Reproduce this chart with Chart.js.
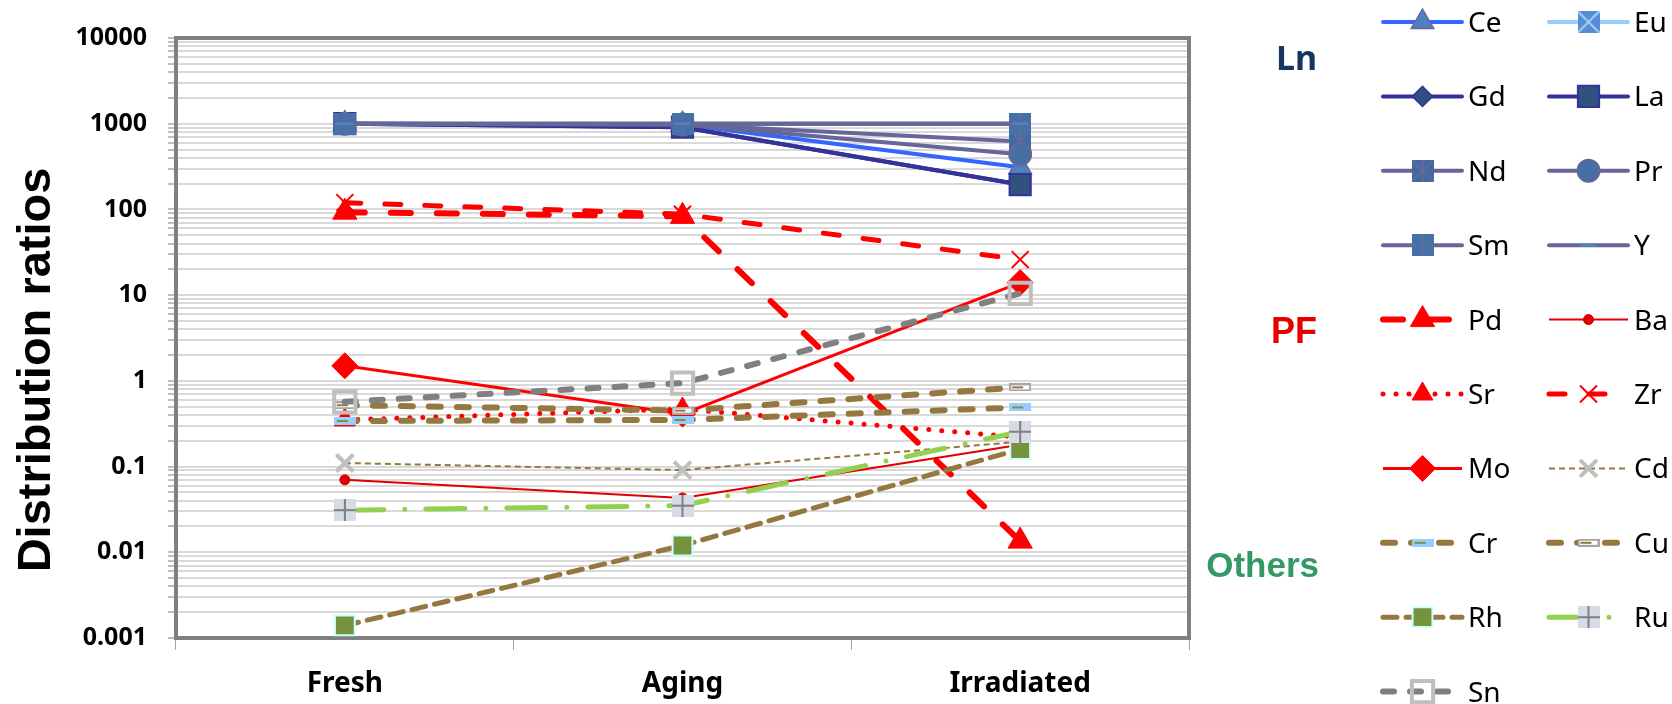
<!DOCTYPE html>
<html>
<head>
<meta charset="utf-8">
<title>Distribution ratios</title>
<script src="https://cdn.jsdelivr.net/npm/chart.js"></script>
<style>
    html, body { margin: 0; padding: 0; background: #fff; }
    #chart { display: block; }
</style>
</head>
<body>
<canvas id="chart" width="1672" height="704"></canvas>
<script>
// values (log axis)
const categories = ['Fresh', 'Aging', 'Irradiated'];

// Ln
const ce = [1000, 980, 310];
const eu = [1000, 1000, 1000];
const gd = [1000, 910, 195];
const la = [1000, 910, 195];
const nd = [1000, 980, 620];
const pr = [1000, 980, 440];
const sm = [1000, 1000, 1000];
const yt = [1000, 1000, 1000];
// PF
const pd = [93, 83, 0.0135];
const ba = [0.07, 0.043, 0.18];
const sr = [0.35, 0.47, 0.22];
const zr = [120, 88, 26];
const mo = [1.5, 0.41, 14];
// others
const cd = [0.11, 0.091, 0.195];
const cr = [0.34, 0.35, 0.49];
const cu = [0.52, 0.45, 0.84];
const rh = [0.0014, 0.012, 0.16];
const ru = [0.031, 0.035, 0.255];
const sn = [0.57, 0.94, 10.5];

const yMajor = [0.001, 0.01, 0.1, 1, 10, 100, 1000, 10000];
const yLabels = ['0.001', '0.01', '0.1', '1', '10', '100', '1000', '10000'];
const minorSteps = [2, 3, 4, 5, 6, 7, 8, 9];
const yTicks = yMajor.concat(
    yMajor.slice(0, -1).flatMap(v => minorSteps.map(s => +(v * s).toPrecision(3)))
).sort((a, b) => a - b);

const brown = '#957840';

// square marker with cross / plus / asterisk on it
function boxMarker(size, fill, mark, markColor, markWidth) {
    const c = document.createElement('canvas');
    c.width = size; c.height = size;
    const g = c.getContext('2d');
    g.fillStyle = fill;
    g.fillRect(0, 0, size, size);
    g.strokeStyle = markColor;
    g.lineWidth = markWidth;
    g.beginPath();
    const m = size / 2;
    if (mark.includes('+')) { g.moveTo(m, 0); g.lineTo(m, size); g.moveTo(0, m); g.lineTo(size, m); }
    if (mark.includes('x')) { g.moveTo(0, 0); g.lineTo(size, size); g.moveTo(size, 0); g.lineTo(0, size); }
    if (mark.includes('|')) { g.moveTo(m, 0); g.lineTo(m, size); }
    g.stroke();
    return c;
}

// flat bar marker (Cr, Cu)
function barMarker(edge, fill, inner) {
    const c = document.createElement('canvas');
    c.width = 22; c.height = 8;
    const g = c.getContext('2d');
    g.fillStyle = edge; g.fillRect(0, 0, 22, 8);
    g.fillStyle = fill; g.fillRect(2, 2, 18, 4);
    g.fillStyle = inner; g.fillRect(3, 3, 11, 2);
    return c;
}

function series(label, data, color, width, dash, cap, point) {
    return Object.assign({
        label: label,
        data: data,
        borderColor: color,
        borderWidth: width,
        borderDash: dash,
        borderCapStyle: cap,
        borderJoinStyle: 'round',
        fill: false,
        tension: 0
    }, point);
}

const red = {pointBackgroundColor: '#FF0000', pointBorderColor: '#FF0000', pointBorderWidth: 1};

const datasets = [
    series('Ce', ce, '#3366FF', 4, [], 'round', {pointStyle: 'triangle', pointRadius: 13, pointBackgroundColor: '#4F81BD', pointBorderColor: '#6666A3', pointBorderWidth: 1.5}),
    series('Eu', eu, '#99CCFF', 4, [], 'round', {pointStyle: boxMarker(22, '#558ED5', 'x', '#A6CDF5', 2), pointRadius: 11}),
    series('Gd', gd, '#333399', 4, [], 'round', {pointStyle: 'rectRot', pointRadius: 10, pointBackgroundColor: '#2F4F7F', pointBorderColor: '#333399', pointBorderWidth: 1.5}),
    series('La', la, '#333399', 4, [], 'round', {pointStyle: 'rect', pointRadius: 15, pointBackgroundColor: '#30527F', pointBorderColor: '#333399', pointBorderWidth: 2}),
    series('Nd', nd, '#666699', 4, [], 'round', {pointStyle: boxMarker(22, '#44699E', 'x|', '#6A6A9F', 1.5), pointRadius: 11}),
    series('Pr', pr, '#666699', 4, [], 'round', {pointStyle: 'circle', pointRadius: 11, pointBackgroundColor: '#4570A6', pointBorderColor: '#666699', pointBorderWidth: 2}),
    series('Sm', sm, '#666699', 4, [], 'round', {pointStyle: boxMarker(22, '#4671A8', '+', '#6A6A9F', 1.5), pointRadius: 11}),
    series('Y', yt, '#666699', 4, [], 'round', {pointStyle: 'line', pointRadius: 8, pointBorderColor: '#4F81BD', pointBorderWidth: 3}),
    series('Pd', pd, '#FF0000', 6, [20, 26], 'round', Object.assign({pointStyle: 'triangle', pointRadius: 14}, red)),
    series('Ba', ba, '#E00000', 2, [], 'butt', {pointStyle: 'circle', pointRadius: 5, pointBackgroundColor: '#E00000', pointBorderColor: '#E00000', pointBorderWidth: 1}),
    series('Sr', sr, '#FF0000', 5, [0, 13], 'round', Object.assign({pointStyle: 'triangle', pointRadius: 12}, red)),
    series('Zr', zr, '#FF0000', 5, [16, 24], 'round', {pointStyle: 'crossRot', pointRadius: 12, pointBorderColor: '#FF0000', pointBorderWidth: 2}),
    series('Mo', mo, '#FF0000', 3, [], 'butt', Object.assign({pointStyle: 'rectRot', pointRadius: 13}, red)),
    series('Cd', cd, brown, 2, [6, 4], 'butt', {pointStyle: 'crossRot', pointRadius: 12, pointBorderColor: '#BFBFBF', pointBorderWidth: 4}),
    series('Cr', cr, brown, 6, [12, 16], 'round', {pointStyle: barMarker('#99CCFF', '#99CCFF', '#77933C'), pointRadius: 11}),
    series('Cu', cu, brown, 6, [12, 16], 'round', {pointStyle: barMarker('#A6A6A6', '#FFFFFF', brown), pointRadius: 11}),
    series('Rh', rh, brown, 5, [14, 9], 'round', {pointStyle: 'rect', pointRadius: 14, pointBackgroundColor: '#76923C', pointBorderColor: '#CCFFFF', pointBorderWidth: 2}),
    series('Ru', ru, '#92D050', 5, [39, 21, 0, 21], 'round', {pointStyle: boxMarker(22, '#D6DCE5', '+', '#7F7F7F', 2), pointRadius: 11}),
    series('Sn', sn, '#808080', 6, [11, 16], 'round', {pointStyle: 'rect', pointRadius: 15, pointBackgroundColor: 'rgba(255,255,255,0)', pointBorderColor: '#BFBFBF', pointBorderWidth: 4})
];
// later series on top, like the original
datasets.forEach((ds, i) => { ds.order = -i; });

// top/right frame, axis title, group labels and the two-column legend
const decorations = {
    id: 'decorations',
    beforeDatasetsDraw(chart) {
        const ctx = chart.ctx, a = chart.chartArea;
        ctx.save();
        ctx.strokeStyle = '#808080';
        ctx.lineWidth = 4;
        ctx.beginPath();
        ctx.moveTo(a.left - 2, a.top);
        ctx.lineTo(a.right, a.top);
        ctx.lineTo(a.right, a.bottom + 2);
        ctx.stroke();
        ctx.restore();
    },
    afterDraw(chart) {
        const ctx = chart.ctx;
        ctx.save();

        ctx.translate(50, 370);
        ctx.rotate(-Math.PI / 2);
        ctx.textAlign = 'center';
        ctx.fillStyle = '#000';
        ctx.font = 'bold 47px "Liberation Sans"';
        ctx.fillText('Distribution ratios', 0, 0);
        ctx.setTransform(1, 0, 0, 1, 0, 0);

        ctx.textAlign = 'right';
        ctx.font = 'bold 34px "Noto Sans"';
        ctx.fillStyle = '#17375E';
        ctx.fillText('Ln', 1317, 70);
        ctx.font = 'bold 36px "Liberation Sans"';
        ctx.fillStyle = '#E60000';
        ctx.fillText('PF', 1317, 343);
        ctx.font = 'bold 35px "Liberation Sans"';
        ctx.fillStyle = '#339966';
        ctx.fillText('Others', 1319, 577);

        ctx.textAlign = 'left';
        ctx.font = '28px "Noto Sans"';
        chart.data.datasets.forEach((ds, i) => {
            const x = 1383 + (i % 2) * 166;
            const y = 22 + Math.floor(i / 2) * 74.4;
            ctx.setLineDash(ds.borderDash);
            ctx.lineCap = ds.borderCapStyle;
            ctx.lineWidth = ds.borderWidth;
            ctx.strokeStyle = ds.borderColor;
            ctx.beginPath();
            ctx.moveTo(x, y);
            ctx.lineTo(x + 79, y);
            ctx.stroke();
            ctx.setLineDash([]);
            ctx.lineCap = 'butt';
            ctx.fillStyle = ds.pointBackgroundColor || 'rgba(0,0,0,0)';
            ctx.strokeStyle = ds.pointBorderColor || 'rgba(0,0,0,0)';
            ctx.lineWidth = ds.pointBorderWidth || 0;
            Chart.helpers.drawPoint(ctx, {
                pointStyle: ds.pointStyle,
                radius: ds.pointRadius,
                rotation: 0,
                borderWidth: ds.pointBorderWidth || 0
            }, x + 39.5, y);
            ctx.fillStyle = '#000';
            ctx.fillText(ds.label, x + 85, y + 10);
        });
        ctx.restore();
    }
};

const chart = new Chart(document.getElementById('chart'), {
    type: 'line',
    data: { labels: categories, datasets: datasets },
    options: {
        responsive: false,
        animation: false,
        devicePixelRatio: 1,
        layout: { padding: { left: 0, top: 38, right: 483, bottom: 0 } },
        plugins: {
            legend: { display: false },
            tooltip: { enabled: false }
        },
        scales: {
            x: {
                offset: true,
                afterFit: scale => { scale.height = 66; },
                ticks: {
                    color: '#000',
                    padding: 17,
                    maxRotation: 0,
                    font: { family: '"Noto Sans"', size: 28, weight: 'bold' }
                },
                grid: { offset: true, drawOnChartArea: false, tickLength: 12, tickColor: '#A6A6A6', tickWidth: 1 },
                border: { color: '#808080', width: 4 }
            },
            y: {
                type: 'logarithmic',
                min: 0.001,
                max: 10000,
                afterBuildTicks: scale => { scale.ticks = yTicks.map(v => ({ value: v })); },
                afterFit: scale => { scale.width = 176; },
                ticks: {
                    autoSkip: false,
                    padding: 21,
                    color: '#000',
                    font: { family: '"Noto Sans"', size: 25, weight: 'bold' },
                    callback: v => {
                        const k = yMajor.indexOf(v);
                        return k >= 0 ? yLabels[k] : '';
                    }
                },
                grid: { color: '#D9D9D9', lineWidth: 2, tickLength: 8, tickColor: '#808080', tickWidth: 1 },
                border: { color: '#808080', width: 4 }
            }
        }
    },
    plugins: [decorations]
});
</script>
</body>
</html>
